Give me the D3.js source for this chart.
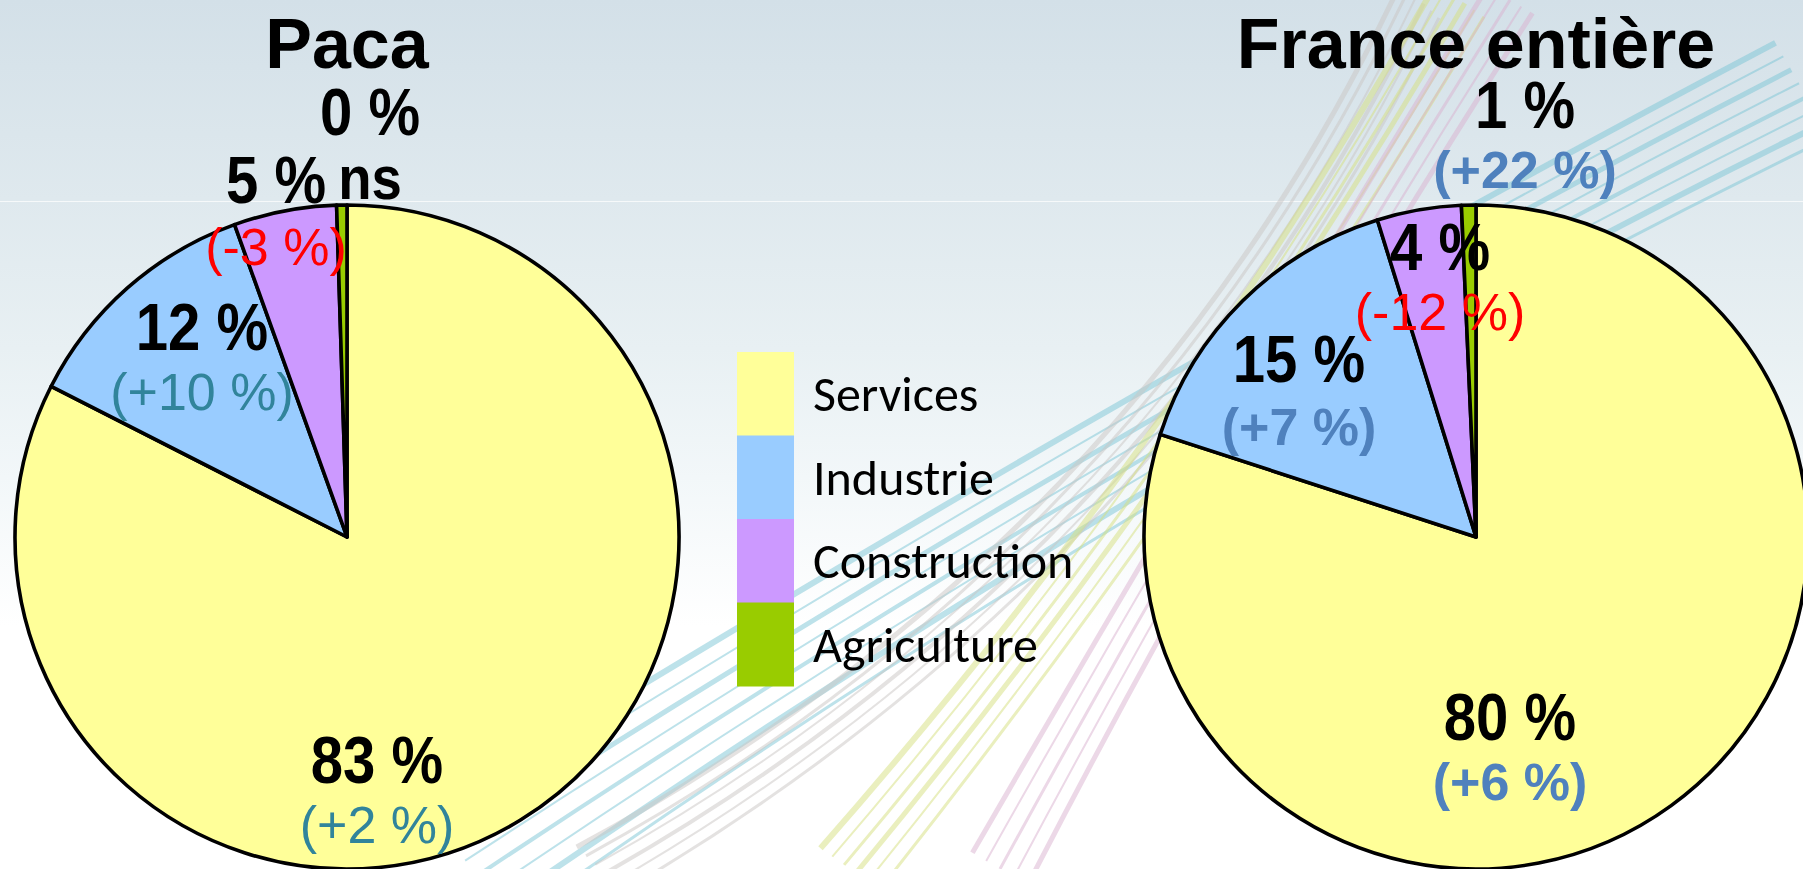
<!DOCTYPE html>
<html><head><meta charset="utf-8">
<script src="https://cdn.jsdelivr.net/npm/d3@7"></script>
<style>html,body{margin:0;padding:0;overflow:hidden;background:#fff}</style>
</head><body>
<svg id="chart" width="1803" height="869"></svg>
<script>
// ---------------- data ----------------
const sectors = ["Services", "Industrie", "Construction", "Agriculture"];
const sectorColors = ["#FFFF99", "#99CCFF", "#CC99FF", "#99CC00"];
const regions = ["Paca", "France entière"];
const pacaShares = [82.5, 12.0, 5.0, 0.5];
const franceShares = [80.0, 15.2, 4.1, 0.7];
const pacaLabels = ["83 %", "12 %", "5 %", "0 %"];
const franceLabels = ["80 %", "15 %", "4 %", "1 %"];
const pacaChanges = ["(+2 %)", "(+10 %)", "(-3 %)", "ns"];
const franceChanges = ["(+6 %)", "(+7 %)", "(-12 %)", "(+22 %)"];

// ---------------- layout (positions / styles) ----------------
const W = 1803, H = 869;
const R = 332;
const pieLayout = [
  { cx: 347, cy: 537, posColor: "#31849B", posBold: false,
    main: [[30, 246], [-145, -187], [-71, -334], [23, -402]],
    sub:  [60, 60, 62, 64] },
  { cx: 1476, cy: 537, posColor: "#4F81BD", posBold: true,
    main: [[34, 203], [-177, -155], [-36, -267], [49, -409]],
    sub:  [60, 63, 60, 60] }
];
const pies = [
  { name: regions[0], shares: pacaShares, labels: pacaLabels, changes: pacaChanges },
  { name: regions[1], shares: franceShares, labels: franceLabels, changes: franceChanges }
];

const svg = d3.select("#chart");
const defs = svg.append("defs");

// background gradient
const grad = defs.append("linearGradient").attr("id", "bg")
  .attr("x1", 0).attr("y1", 0).attr("x2", 0).attr("y2", 1);
[[0, "#d3e0e8"], [0.23, "#dfe9ee"], [0.4, "#e8f0f3"], [0.55, "#f2f7f9"], [0.72, "#ffffff"], [1, "#ffffff"]]
  .forEach(([o, c]) => grad.append("stop").attr("offset", o).attr("stop-color", c));
svg.append("rect").attr("width", W).attr("height", H).attr("fill", "url(#bg)");
svg.append("line").attr("x1", 0).attr("x2", W).attr("y1", 201.5).attr("y2", 201.5)
  .attr("stroke", "#ffffff").attr("stroke-opacity", 0.7).attr("stroke-width", 1);

// decorative swoosh bundles (background ornament)
const bundles = [
  { p0: [470, 869], c: [1150, 420], p2: [1803, 90], n: 8, gap: 12, color: "#7cc6d6", op: 0.5, w: [6, 2, 5, 2, 4, 2, 6, 3] },
  { p0: [600, 869], c: [1150, 560], p2: [1420, 0], n: 6, gap: 8, color: "#c9c6c3", op: 0.5, w: [5, 3, 2, 4, 2, 3] },
  { p0: [850, 869], c: [1200, 450], p2: [1460, 0], n: 6, gap: 9, color: "#d6df7e", op: 0.5, w: [6, 2, 3, 5, 2, 3] },
  { p0: [1000, 869], c: [1240, 430], p2: [1510, 0], n: 5, gap: 10, color: "#d9b1cf", op: 0.5, w: [5, 2, 3, 2, 5] }
];
const deco = svg.append("g").attr("class", "deco");
bundles.forEach(b => {
  const dx = b.p2[0] - b.p0[0], dy = b.p2[1] - b.p0[1];
  const len = Math.hypot(dx, dy);
  const nx = -dy / len, ny = dx / len;
  for (let i = 0; i < b.n; i++) {
    const o = (i - (b.n - 1) / 2) * b.gap;
    const p = d3.path();
    p.moveTo(b.p0[0] + nx * o * 1.6, b.p0[1] + ny * o * 1.6);
    p.quadraticCurveTo(b.c[0] + nx * o, b.c[1] + ny * o, b.p2[0] + nx * o * 1.3, b.p2[1] + ny * o * 1.3);
    deco.append("path").attr("d", p.toString()).attr("fill", "none")
      .attr("stroke", b.color).attr("stroke-opacity", b.op).attr("stroke-width", b.w[i % b.w.length]);
  }
});

// pies
const pieGen = d3.pie().sort(null).value(d => d);
const arcGen = d3.arc().innerRadius(0).outerRadius(R);
const color = d3.scaleOrdinal().domain(sectors).range(sectorColors);

pies.forEach((pd, pi) => {
  const L = pieLayout[pi];
  const g = svg.append("g").attr("transform", `translate(${L.cx},${L.cy})`);
  g.selectAll("path.slice").data(pieGen(pd.shares)).join("path")
    .attr("class", "slice")
    .attr("d", arcGen)
    .attr("fill", (d, i) => color(sectors[i]))
    .attr("stroke", "#000").attr("stroke-width", 3.6).attr("stroke-linejoin", "round");

  // title
  svg.append("text").attr("x", L.cx).attr("y", 68).attr("text-anchor", "middle")
    .attr("font-family", "'Liberation Sans', Arial, sans-serif").attr("font-weight", "bold")
    .attr("font-size", 70).attr("fill", "#000").text(pd.name);

  // labels
  pd.labels.forEach((lab, i) => {
    const [ox, oy] = L.main[i];
    const lg = g.append("g").attr("transform", `translate(${ox},${oy})`);
    lg.append("text").attr("transform", "scale(0.88,1)").attr("text-anchor", "middle")
      .attr("font-family", "'Liberation Sans', Arial, sans-serif").attr("font-weight", "bold")
      .attr("font-size", 66).attr("fill", "#000").text(lab);
    const ch = pd.changes[i];
    const isNs = ch === "ns";
    const neg = ch.startsWith("(-");
    const t = lg.append("text").attr("y", L.sub[i]).attr("text-anchor", "middle")
      .attr("font-family", "'Liberation Sans', Arial, sans-serif")
      .text(ch);
    if (isNs) {
      t.attr("transform", "scale(0.88,1)").attr("font-size", 62).attr("font-weight", "bold").attr("fill", "#000");
    } else {
      t.attr("font-size", 52)
        .attr("font-weight", (!neg && L.posBold) ? "bold" : "normal")
        .attr("fill", neg ? "#FF0000" : L.posColor);
    }
  });
});

// legend
const lgX = 737, lgY = 352, boxW = 57, boxH = 83.5;
const legend = svg.append("g");
sectors.forEach((s, i) => {
  legend.append("rect").attr("x", lgX).attr("y", lgY + i * boxH)
    .attr("width", boxW).attr("height", boxH + 0.5).attr("fill", color(s));
  legend.append("text").attr("x", lgX + 76).attr("y", lgY + i * boxH + 59)
    .attr("font-family", "Carlito, Lato, 'Open Sans', sans-serif")
    .attr("font-size", 50).attr("fill", "#000").text(s);
});
</script>
</body></html>
